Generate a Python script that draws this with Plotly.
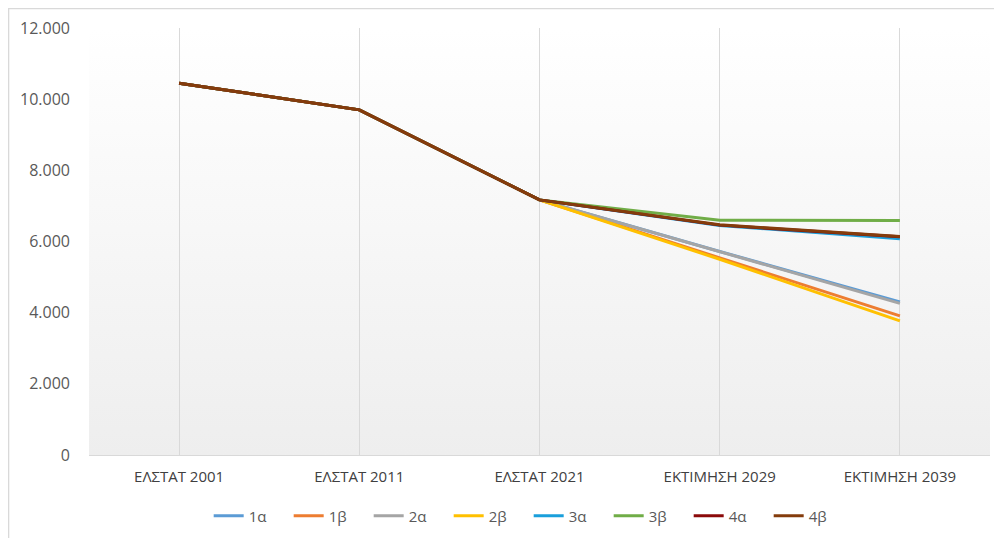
import plotly.graph_objects as go

categories = ["ΕΛΣΤΑΤ 2001", "ΕΛΣΤΑΤ 2011", "ΕΛΣΤΑΤ 2021", "ΕΚΤΙΜΗΣΗ 2029", "ΕΚΤΙΜΗΣΗ 2039"]

s_1a = [10450, 9700, 7170, 5720, 4300]
s_1b = [10450, 9700, 7170, 5550, 3910]
s_2a = [10450, 9700, 7170, 5710, 4260]
s_2b = [10450, 9700, 7170, 5500, 3770]
s_3a = [10450, 9700, 7170, 6450, 6080]
s_3b = [10450, 9700, 7170, 6600, 6590]
s_4a = [10450, 9700, 7170, 6460, 6130]
s_4b = [10450, 9700, 7170, 6470, 6140]

series_names = ["1α", "1β", "2α", "2β", "3α", "3β", "4α", "4β"]
series_values = [s_1a, s_1b, s_2a, s_2b, s_3a, s_3b, s_4a, s_4b]
series_colors = ["#5B9BD5", "#ED7D31", "#A5A5A5", "#FFC000",
                 "#1A9FDB", "#70AD47", "#8B0A0A", "#843C0C"]

y_ticks = [0, 2000, 4000, 6000, 8000, 10000, 12000]

fig = go.Figure()
for name, vals, col in zip(series_names, series_values, series_colors):
    fig.add_trace(go.Scatter(
        x=categories, y=vals, name=name, mode="lines",
        line=dict(color=col, width=3),
    ))

grad_svg = (
    "data:image/svg+xml;utf8,"
    "<svg xmlns='http://www.w3.org/2000/svg' width='100' height='100' preserveAspectRatio='none'>"
    "<defs><linearGradient id='g' x1='0' y1='0' x2='0' y2='1'>"
    "<stop offset='0' stop-color='%23FFFFFF'/>"
    "<stop offset='1' stop-color='%23EEEEEE'/>"
    "</linearGradient></defs>"
    "<rect width='100' height='100' fill='url(%23g)'/></svg>"
)

fig.update_layout(
    width=1002, height=538,
    margin=dict(l=81, r=20, t=20, b=91),
    paper_bgcolor="white",
    plot_bgcolor="rgba(0,0,0,0)",
    separators=",.",
    font=dict(family="Open Sans, Noto Sans, sans-serif", size=12, color="#595959"),
    images=[dict(source=grad_svg, xref="paper", yref="paper", x=0, y=1,
                  sizex=1, sizey=1, sizing="stretch", layer="below",
                  xanchor="left", yanchor="top")],
    xaxis=dict(
        type="category", showgrid=True, gridcolor="#D9D9D9", gridwidth=1,
        showline=True, linecolor="#D9D9D9", linewidth=1,
        ticks="", tickfont=dict(size=15, color="#404040"),
        ticklabelstandoff=8, automargin=False,
        range=[-0.5, 4.5], fixedrange=True,
    ),
    yaxis=dict(
        range=[0, 12000], tickvals=y_ticks, tickformat=",d",
        showgrid=False, zeroline=False, showline=False,
        ticks="", ticklabelstandoff=18, automargin=False,
        tickfont=dict(size=16, color="#595959"),
    ),
    legend=dict(
        orientation="h", x=0.488, xanchor="center", y=-0.143, yanchor="middle",
        font=dict(size=15, color="#595959"), itemwidth=30,
        entrywidth=35, entrywidthmode="pixels",
        bgcolor="rgba(0,0,0,0)",
    ),
    shapes=[dict(type="rect", xref="paper", yref="paper",
                 x0=-0.0893, x1=1.05, y0=-0.3, y1=1.0457,
                 line=dict(color="#D9D9D9", width=1.5), layer="below")],
    showlegend=True,
)

fig.write_html("out.html")
